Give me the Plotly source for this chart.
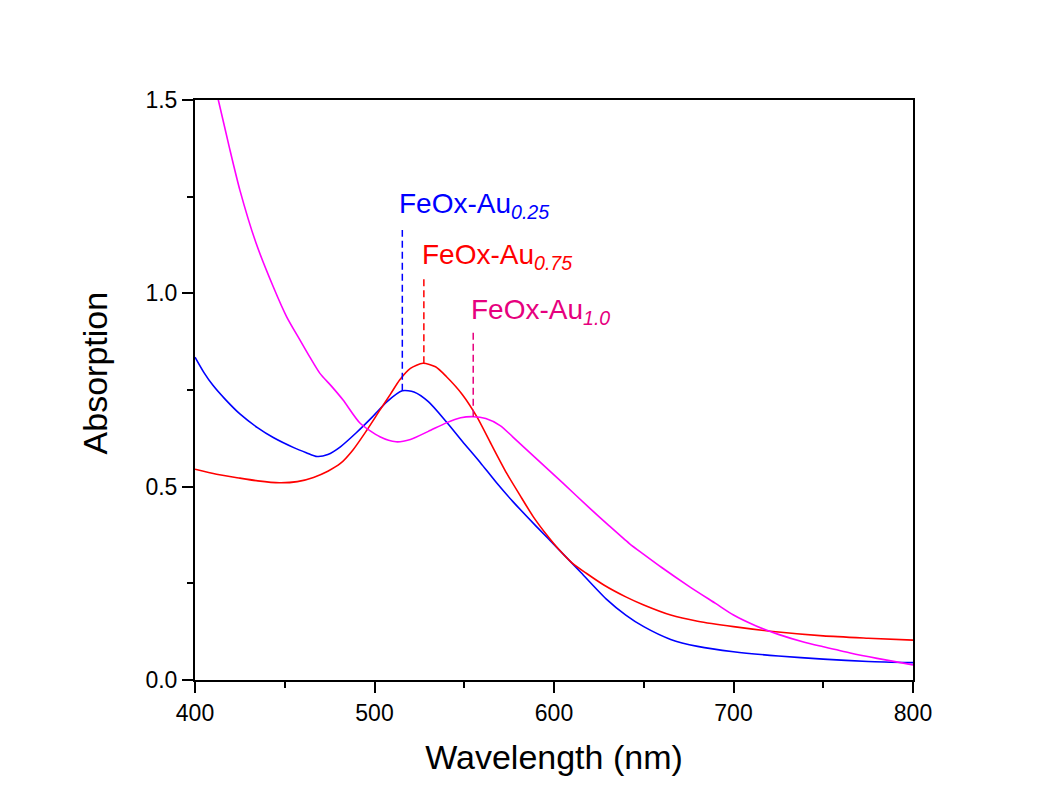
import plotly.graph_objects as go

# ---- data ----
wl_025 = [400, 405, 410, 417, 425, 435, 443.6, 455, 462, 468, 474, 481, 490, 499, 507, 515.5, 522, 530, 540,
          549, 559, 568, 577, 590, 603, 615, 629, 640, 650, 665, 680, 700, 725, 750, 775, 800]
abs_025 = [0.835, 0.795, 0.762, 0.725, 0.688, 0.652, 0.627, 0.601, 0.588, 0.578, 0.583, 0.603, 0.64, 0.681,
           0.72, 0.748, 0.745, 0.72, 0.668, 0.617, 0.562, 0.51, 0.462, 0.398, 0.336, 0.278, 0.21, 0.168,
           0.138, 0.105, 0.087, 0.073, 0.062, 0.054, 0.048, 0.045]

wl_075 = [400, 412, 425, 435, 447, 457, 466, 474, 481, 488, 495.7, 503, 509, 514, 520, 527, 534, 540, 549,
          557, 565, 573.6, 581, 588.5, 596, 603, 610, 618, 628, 640, 650, 665, 680, 700, 725, 750, 775, 800]
abs_075 = [0.545, 0.532, 0.522, 0.515, 0.510, 0.513, 0.524, 0.54, 0.560, 0.595, 0.646, 0.698, 0.74, 0.776,
           0.806, 0.819, 0.810, 0.785, 0.738, 0.681, 0.61, 0.535, 0.478, 0.422, 0.375, 0.336, 0.303, 0.276,
           0.245, 0.215, 0.194, 0.168, 0.152, 0.138, 0.124, 0.114, 0.108, 0.103]

wl_10 = [400, 406, 413, 419, 425, 434, 443.6, 451, 458.5, 464, 469.6, 476, 482.5, 492, 503, 512, 520, 530,
         540, 548, 555, 562, 570, 577, 590, 605, 620, 630, 642, 650, 660, 675, 690, 700, 712, 725, 740, 750,
         765, 780, 800]
abs_10 = [1.78, 1.63, 1.50, 1.38, 1.267, 1.13, 1.017, 0.94, 0.879, 0.835, 0.793, 0.76, 0.724, 0.664, 0.629,
          0.616, 0.622, 0.643, 0.665, 0.678, 0.681, 0.676, 0.658, 0.629, 0.573, 0.509, 0.444, 0.402, 0.353,
          0.325, 0.291, 0.243, 0.198, 0.168, 0.141, 0.118, 0.097, 0.086, 0.07, 0.056, 0.039]

# peak markers
peak_labels = ["FeOx-Au<sub><i>0.25</i></sub>", "FeOx-Au<sub><i>0.75</i></sub>", "FeOx-Au<sub><i>1.0</i></sub>"]
peak_wl = [515.5, 527.5, 555]
peak_val = [0.748, 0.819, 0.681]
dash_top = [1.164, 1.045, 0.900]
label_x = [512.5, 525.3, 552.6]
label_y = [1.228, 1.095, 0.952]
label_colors = ["#0000FF", "#FF0000", "#E6007E"]

x_title = "Wavelength (nm)"
y_title = "Absorption"

series = [(wl_025, abs_025, "#0000FF", "FeOx-Au0.25"),
          (wl_075, abs_075, "#FF0000", "FeOx-Au0.75"),
          (wl_10, abs_10, "#FF00FF", "FeOx-Au1.0")]

FONT = "Liberation Sans, Arial, sans-serif"

fig = go.Figure()
for wl, ab, col, name in series:
    fig.add_trace(go.Scatter(x=wl, y=ab, mode="lines", name=name,
                             line=dict(color=col, width=1.6, shape="spline", smoothing=0.7)))

for i in range(3):
    fig.add_shape(type="line", x0=peak_wl[i], x1=peak_wl[i], y0=peak_val[i], y1=dash_top[i],
                  xref="x", yref="y", line=dict(color=label_colors[i], width=1.5, dash="7px,4px"))
    fig.add_annotation(x=label_x[i], y=label_y[i], text=peak_labels[i], xref="x", yref="y",
                       xanchor="left", yanchor="middle", showarrow=False,
                       font=dict(family=FONT, size=28, color=label_colors[i]))

# y-axis title placed as rotated annotation (sits slightly above plot centre)
fig.add_annotation(x=-0.139, y=0.529, xref="paper", yref="paper", text=y_title, textangle=-90,
                   xanchor="center", yanchor="middle", showarrow=False,
                   font=dict(family=FONT, size=34, color="black"))

axis_common = dict(showline=True, linecolor="black", linewidth=2, mirror=True, ticks="outside",
                   ticklen=11, tickwidth=2, tickcolor="black", showgrid=False, zeroline=False)

fig.update_xaxes(range=[400, 800], dtick=100, tick0=400,
                 minor=dict(ticks="outside", ticklen=6, tickwidth=2, tickcolor="black", dtick=50),
                 title=dict(text=x_title, font=dict(family=FONT, size=34, color="black"), standoff=21),
                 **axis_common)
fig.update_yaxes(range=[0, 1.5], dtick=0.5, tick0=0, tickformat=".1f",
                 minor=dict(ticks="outside", ticklen=6, tickwidth=2, tickcolor="black", dtick=0.25),
                 **axis_common)
fig.update_xaxes(tickfont=dict(family=FONT, size=23, color="black"))
fig.update_yaxes(tickfont=dict(family=FONT, size=23, color="black"))

fig.update_layout(width=1027, height=787, showlegend=False,
                  plot_bgcolor="white", paper_bgcolor="white",
                  margin=dict(l=187, r=122, t=92, b=115))

fig.write_html("out.html")
